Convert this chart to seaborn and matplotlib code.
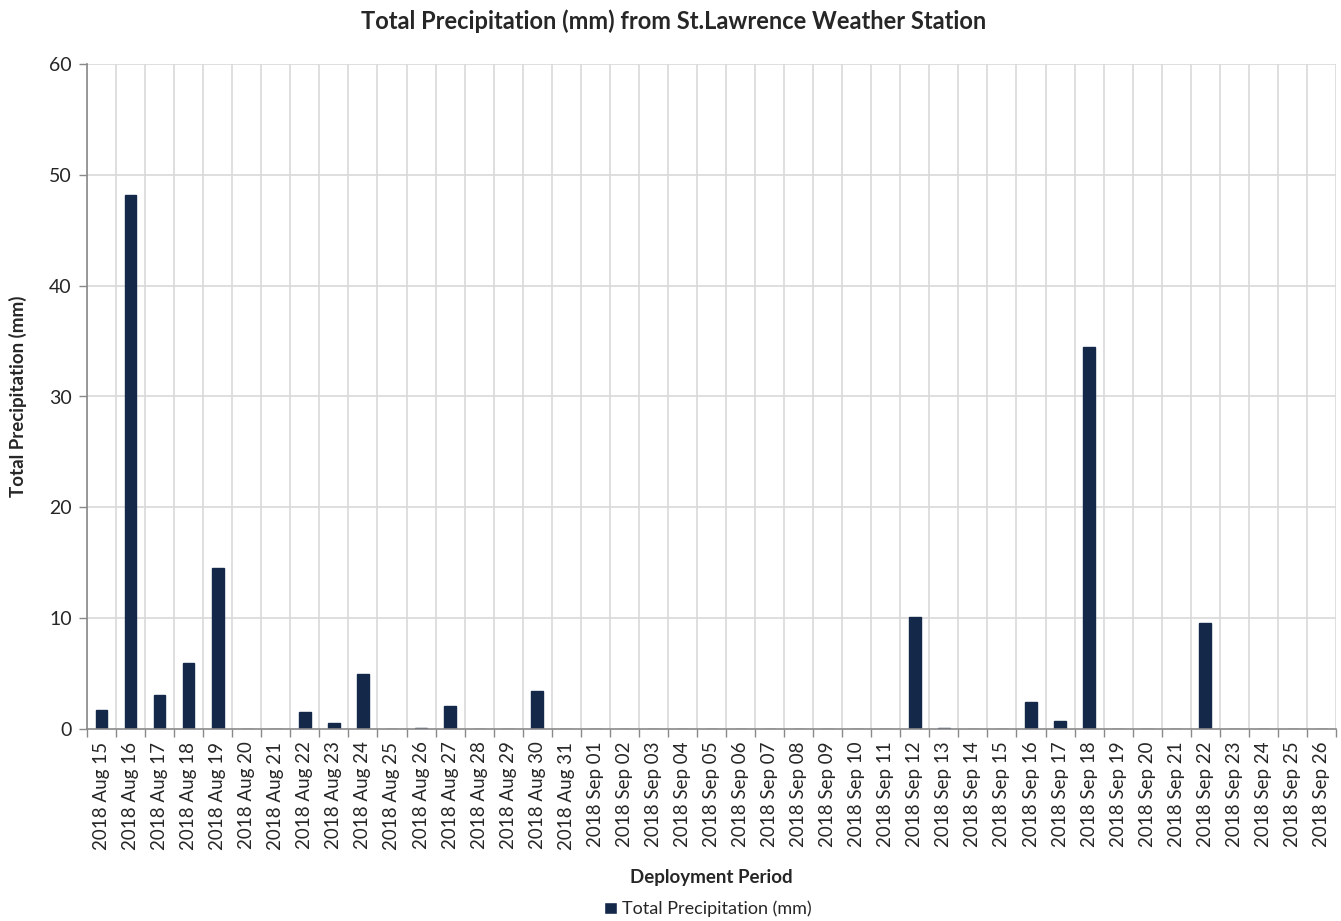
import matplotlib
matplotlib.use("Agg")
import matplotlib.pyplot as plt
import seaborn as sns
import pandas as pd
from matplotlib.patches import Patch

dates = ["2018 Aug %02d" % d for d in range(15, 32)] + ["2018 Sep %02d" % d for d in range(1, 27)]
precip = [1.7, 48.2, 3.1, 6.0, 14.5, 0, 0, 1.5, 0.5, 5.0, 0, 0.1, 2.1, 0, 0, 3.4, 0,
          0, 0, 0, 0, 0, 0, 0, 0, 0, 0, 0, 10.1, 0.1, 0, 0, 2.4, 0.7, 34.5, 0, 0, 0, 9.6,
          0, 0, 0, 0]
yticks = [0, 10, 20, 30, 40, 50, 60]

df = pd.DataFrame({"date": dates, "precip": precip})

sns.set_theme(style="white")
plt.rcParams['font.family'] = ['Lato', 'DejaVu Sans']

fig = plt.figure(figsize=(13.41, 9.21), dpi=100)
ax = fig.add_axes([87/1341, 1-729/921, (1336-87)/1341, (729-64)/921])

color = "#14284a"
sns.barplot(data=df, x="date", y="precip", color=color, width=0.4, ax=ax,
            saturation=1, edgecolor=color)

n = len(dates)
ax.set_xlim(-0.5, n - 0.5)
ax.set_ylim(0, 60)
ax.set_yticks(yticks)
ax.set_yticklabels([str(v) for v in yticks], fontsize=14)

# gridlines at category boundaries
for b in range(n + 1):
    ax.axvline(b - 0.5, color="#d9d9d9", lw=1.2, zorder=0)
for v in yticks[1:]:
    ax.axhline(v, color="#d9d9d9", lw=1.2, zorder=0)

ax.set_xticks([b - 0.5 for b in range(n + 1)], minor=False)
ax.set_xticklabels([""] * (n + 1))
ax.set_xticks(range(n), minor=True)
ax.set_xticklabels(dates, minor=True, rotation=90, fontsize=13.5)
ax.tick_params(axis="x", which="major", length=6, color="#898989", width=1, direction="out", bottom=True)
ax.tick_params(axis="x", which="minor", length=0, pad=9)
ax.tick_params(axis="y", length=6, color="#898989", width=1, direction="out", left=True, pad=5)

for s in ["top", "right"]:
    ax.spines[s].set_visible(False)
ax.spines["left"].set_color("#898989")
ax.spines["bottom"].set_color("#898989")
ax.spines["left"].set_linewidth(1.2)
ax.spines["bottom"].set_linewidth(1.2)

ax.set_xlabel("Deployment Period", fontsize=13.5, fontweight="bold", labelpad=14)
ax.set_ylabel("Total Precipitation (mm)", fontsize=13.5, fontweight="bold", labelpad=16)
fig.suptitle("Total Precipitation (mm) from St.Lawrence Weather Station", fontsize=17,
             fontweight="bold", x=0.502, y=1-21/921, va="center")

fig.legend(handles=[Patch(facecolor=color, label="Total Precipitation (mm)")],
           loc="center", bbox_to_anchor=(0.528, 1-909/921), frameon=False, fontsize=13,
           handlelength=0.7, handleheight=0.7, handletextpad=0.3)

fig.savefig("out.png", dpi=100)
